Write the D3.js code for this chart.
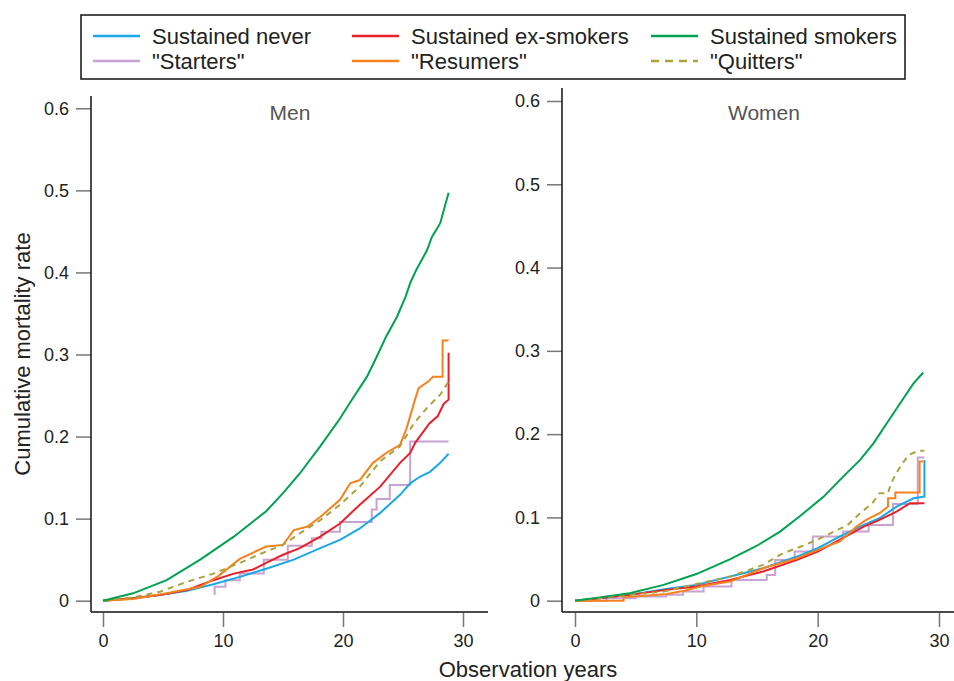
<!DOCTYPE html>
<meta charset="utf-8">
<style>
body { margin: 0; background: #fff; }
svg { font-family: "Liberation Sans", Arial, sans-serif; }
.tick line { stroke: #777; stroke-width: 1.5px; }
.tick text { font-size: 18px; fill: #222; }
.frame { stroke: #111; stroke-width: 1.5px; }
.curve { fill: none; stroke-width: 2px; }
</style>
<body>
  <svg width="954" height="681"></svg>
</body>
<script src="https://cdn.jsdelivr.net/npm/d3@7"></script>
<script>

// series labels / colours (legend order)
var seriesNames = ["Sustained never", "Sustained ex-smokers", "Sustained smokers",
                   "\"Starters\"", "\"Resumers\"", "\"Quitters\""];
var seriesColors = ["#1aa7e6", "#e8202a", "#00a24f", "#c8a2d2", "#f5821f", "#aaa23c"];

var yTicks = [0, 0.1, 0.2, 0.3, 0.4, 0.5, 0.6];
var xTicks = [0, 10, 20, 30];

// Men: [observation year, cumulative mortality]
var menNever = [[0,0],[2.5,0.003],[4.75,0.007],[7,0.012],[9.2,0.02],[11.4,0.029],[13.6,0.039],[15.9,0.05],
  [18.1,0.064],[19.75,0.074],[21.4,0.088],[23.1,0.107],[24.75,0.129],[25.6,0.143],[26.4,0.151],[27.25,0.157],
  [28.1,0.168],[28.8,0.179]];
var menEx = [[0,0],[2.5,0.003],[4.75,0.007],[7,0.013],[9.2,0.025],[10.9,0.033],[12.5,0.038],[13.6,0.046],
  [15,0.056],[16.4,0.064],[18.1,0.078],[19.75,0.094],[21.4,0.117],[23.1,0.139],[24.75,0.168],[25.6,0.18],
  [26,0.192],[27.2,0.216],[27.9,0.225],[28.4,0.24],[28.8,0.245],[28.8,0.302]];
var menSmokers = [[0,0],[2.5,0.009],[5.3,0.025],[8.1,0.05],[10.9,0.078],[13.6,0.109],[15,0.131],[16.4,0.155],
  [18.1,0.188],[19.75,0.222],[20.7,0.244],[22,0.273],[22.8,0.297],[23.6,0.322],[24.5,0.346],[25.2,0.37],
  [25.6,0.387],[26.1,0.403],[27,0.427],[27.4,0.443],[28.1,0.46],[28.8,0.497]];
var menStarters = [[9.3,0.007],[9.3,0.017],[10.2,0.025],[11.4,0.033],[13.4,0.05],[15.4,0.067],[17.4,0.076],
  [18.2,0.084],[19.75,0.096],[22.4,0.111],[22.8,0.124],[23.9,0.141],[25.6,0.194],[28.8,0.194]];
var menResumers = [[0,0],[2.5,0.002],[5.3,0.009],[8.1,0.017],[9.6,0.03],[11.4,0.051],[13.6,0.066],[15,0.068],
  [15.9,0.086],[17,0.09],[18.1,0.102],[19.75,0.123],[20.6,0.143],[21.4,0.147],[22.5,0.168],[23.6,0.18],
  [24.75,0.19],[25.3,0.21],[26,0.245],[26.3,0.259],[27.1,0.267],[27.5,0.273],[28.3,0.273],[28.3,0.317],[28.8,0.317]];
var menQuitters = [[0,0],[2.5,0.004],[4.75,0.011],[7,0.023],[9.2,0.033],[11.4,0.046],[13.6,0.06],[15,0.068],
  [16.4,0.082],[18.1,0.098],[19.75,0.117],[21.4,0.139],[23.1,0.17],[24.75,0.188],[25.9,0.216],[27,0.235],
  [28.1,0.251],[28.8,0.267]];

// Women
var womenNever = [[0,0],[2,0.003],[4.5,0.007],[7.5,0.014],[10,0.019],[12.8,0.029],[15.5,0.039],[18.3,0.053],
  [20,0.063],[21.8,0.077],[23.8,0.091],[25.1,0.099],[26.5,0.113],[27.9,0.123],[28.8,0.125],[28.8,0.169]];
var womenEx = [[0,0],[2,0.003],[4.5,0.007],[7.5,0.013],[10,0.017],[12.8,0.025],[15.5,0.035],[18.3,0.049],
  [20,0.059],[21.8,0.073],[23.8,0.089],[25.1,0.097],[26.5,0.107],[27.6,0.117],[28.8,0.117]];
var womenSmokers = [[0,0],[2,0.004],[4.5,0.009],[7.3,0.019],[10,0.032],[12.8,0.05],[15,0.066],[16.9,0.083],
  [18.5,0.101],[20.5,0.125],[22.1,0.149],[23.5,0.169],[24.6,0.189],[25.7,0.213],[26.8,0.237],[27.9,0.261],
  [28.7,0.274]];
var womenStarters = [[0,0],[2.6,0.003],[5,0.005],[7.5,0.007],[8.9,0.011],[10.6,0.017],[12.9,0.025],[15.8,0.031],
  [16.5,0.049],[18.1,0.059],[19.6,0.077],[22.1,0.083],[24.2,0.091],[26.2,0.116],[28.25,0.172],[28.8,0.172]];
var womenResumers = [[0,0],[4,0],[4,0.004],[7.6,0.008],[9,0.012],[10.6,0.018],[12.8,0.023],[15.5,0.039],
  [18.3,0.051],[20.7,0.065],[21.8,0.071],[22.6,0.081],[23.2,0.089],[24,0.097],[25.1,0.105],[25.8,0.113],
  [25.8,0.123],[26.4,0.123],[26.4,0.13],[28.4,0.13],[28.4,0.167],[28.7,0.167]];
var womenQuitters = [[0,0],[2,0.003],[4.5,0.007],[7.3,0.011],[10,0.02],[12.8,0.029],[15.5,0.043],[16.9,0.055],
  [17.7,0.06],[18.8,0.066],[20.7,0.078],[21.6,0.085],[22.4,0.09],[23.5,0.105],[24.5,0.117],[25.1,0.129],
  [25.8,0.129],[26,0.139],[26.4,0.151],[26.9,0.163],[27.5,0.175],[28.3,0.18],[28.8,0.18]];

var svg = d3.select("svg");

var panels = [
  { title: "Men", series: [menNever, menEx, menSmokers, menStarters, menResumers, menQuitters],
    xr: [103, 463], yr: [600.7, 108.3], left: 91, top: 96, right: 488 },
  { title: "Women", series: [womenNever, womenEx, womenSmokers, womenStarters, womenResumers, womenQuitters],
    xr: [575, 939], yr: [600.7, 101], left: 562, top: 88, right: 954 }
];

var stepped = [false, false, false, true, false, false];
var drawOrder = [3, 0, 1, 4, 5, 2];
var axisY = 612;

panels.forEach(function(p) {
  var x = d3.scaleLinear().domain([0, 30]).range(p.xr);
  var y = d3.scaleLinear().domain([0, 0.6]).range(p.yr);
  var g = svg.append("g");

  g.append("g")
      .attr("transform", "translate(" + p.left + ",0)")
      .call(d3.axisLeft(y).tickValues(yTicks).tickSize(15).tickPadding(7)
        .tickFormat(function(d) { return d === 0 ? "0" : d3.format(".1f")(d); }))
      .call(function(a) { a.select(".domain").remove(); });

  g.append("g")
      .attr("transform", "translate(0," + (axisY + 1) + ")")
      .call(d3.axisBottom(x).tickValues(xTicks).tickSize(14).tickPadding(7))
      .call(function(a) { a.select(".domain").remove(); });

  g.append("line").attr("class", "frame")
      .attr("x1", p.left).attr("x2", p.left).attr("y1", p.top).attr("y2", axisY);
  g.append("line").attr("class", "frame")
      .attr("x1", p.left).attr("x2", p.right).attr("y1", axisY).attr("y2", axisY);

  g.append("text")
      .attr("x", (p.xr[0] + p.xr[1]) / 2 + 7)
      .attr("y", 120)
      .attr("text-anchor", "middle")
      .style("font-size", "21px")
      .style("fill", "#555")
      .text(p.title);

  drawOrder.forEach(function(i) {
    var line = d3.line()
        .x(function(d) { return x(d[0]); })
        .y(function(d) { return y(d[1]); })
        .curve(stepped[i] ? d3.curveStepAfter : d3.curveLinear);
    g.append("path")
        .attr("class", "curve")
        .attr("d", line(p.series[i]))
        .attr("stroke", seriesColors[i])
        .attr("stroke-dasharray", i === 5 ? "6,5" : null);
  });
});

// axis titles
svg.append("text")
    .attr("transform", "translate(30,354) rotate(-90)")
    .attr("text-anchor", "middle")
    .style("font-size", "22px").style("fill", "#222")
    .text("Cumulative mortality rate");

svg.append("text")
    .attr("x", 528).attr("y", 677)
    .attr("text-anchor", "middle")
    .style("font-size", "22px").style("fill", "#222")
    .text("Observation years");

// legend
var legend = svg.append("g");
legend.append("rect")
    .attr("x", 81).attr("y", 15).attr("width", 824).attr("height", 64)
    .attr("fill", "#fff").attr("stroke", "#111").attr("stroke-width", 1.5);

var colX = [93, 352, 651];
var rowY = [36, 61];
var item = legend.selectAll(".item")
    .data(seriesNames)
    .enter().append("g")
    .attr("transform", function(d, i) { return "translate(" + colX[i % 3] + "," + rowY[Math.floor(i / 3)] + ")"; });

item.append("line")
    .attr("x1", 0).attr("x2", 47)
    .attr("stroke", function(d, i) { return seriesColors[i]; })
    .attr("stroke-width", 2.5)
    .attr("stroke-dasharray", function(d, i) { return i === 5 ? "8,6" : null; });

item.append("text")
    .attr("x", 59).attr("y", 7.5)
    .style("font-size", "22px").style("fill", "#222")
    .text(function(d) { return d; });

</script>
